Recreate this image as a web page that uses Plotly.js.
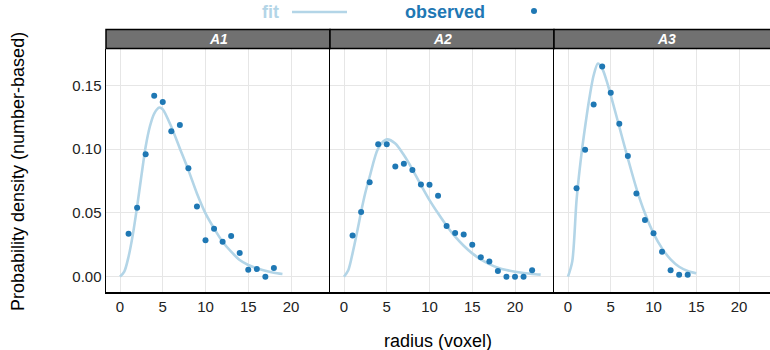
<!DOCTYPE html>
<html>
<head>
<meta charset="utf-8">
<script src="https://cdn.plot.ly/plotly-3.0.1.min.js"></script>
<style>html,body{margin:0;padding:0;background:#fff;}#chart{width:770px;height:350px;}</style>
</head>
<body>
<div id="chart"></div>
<script>
// ---- data ----
const panels = ["A1", "A2", "A3"];

const obsRadiusA1 = [1,2,3,4,5,6,7,8,9,10,11,12,13,14,15,16,17,18];
const obsDensityA1 = [0.0337,0.054,0.096,0.142,0.137,0.114,0.119,0.085,0.055,0.0285,0.0376,0.0274,0.032,0.0186,0.0055,0.006,0.0,0.0068];

const obsRadiusA2 = [1,2,3,4,5,6,7,8,9,10,11,12,13,14,15,16,17,18,19,20,21,22];
const obsDensityA2 = [0.0324,0.0507,0.074,0.1038,0.1038,0.0865,0.0886,0.0836,0.0724,0.0721,0.0635,0.0397,0.0342,0.0332,0.0251,0.0152,0.012,0.0045,0,0,0,0.005];

const obsRadiusA3 = [1,2,3,4,5,6,7,8,9,10,11,12,13,14];
const obsDensityA3 = [0.0693,0.0995,0.1351,0.1649,0.1442,0.1199,0.0946,0.0653,0.0444,0.034,0.0196,0.005,0.0016,0.0016];

const fitRadiusA1 = [0,0.5,1,1.5,2,2.5,3,3.5,4,4.6,5,6,7,8,9,10,11,12,13,14,15,16,17,18,19];
const fitDensityA1 = [0,0.004,0.0157,0.033,0.055,0.079,0.1019,0.118,0.128,0.1327,0.1312,0.1176,0.1006,0.0836,0.0653,0.0497,0.0379,0.0274,0.0196,0.0131,0.0092,0.0066,0.0047,0.0031,0.0021];

const fitRadiusA2 = [0,0.5,1,1.5,2,2.5,3,4,5,6,7,8,9,10,11,12,13,14,15,16,17,18,19,20,21,22,23];
const fitDensityA2 = [0,0.005,0.0183,0.034,0.0509,0.066,0.0784,0.1006,0.1077,0.1045,0.0954,0.0842,0.0719,0.0601,0.0497,0.040,0.0314,0.0243,0.0183,0.0136,0.0099,0.0071,0.0052,0.0039,0.0029,0.0021,0.0016];

const fitRadiusA3 = [0,0.5,1,1.5,2,2.5,3,3.5,4,4.5,5,6,7,8,9,10,11,12,13,14,15];
const fitDensityA3 = [0,0.012,0.0601,0.092,0.1176,0.140,0.158,0.1672,0.1633,0.154,0.1424,0.1176,0.0928,0.0693,0.0497,0.034,0.0222,0.0136,0.0078,0.0045,0.0027];

const xTickVals = [0,5,10,15,20];
const yTickVals = [0,0.05,0.10,0.15];
const legendLabels = ["fit", "observed"];
const xTitle = "radius (voxel)";
const yTitle = "Probability density (number-based)";

// ---- styling ----
const W = 770, H = 350;
const FONT = "Liberation Sans, Arial, Helvetica, sans-serif";
const fitColor = "rgb(179,213,231)";
const obsColor = "#1f78b4";
const pxX = p => p / W;
const pxY = p => (H - p) / H;

const panelLeft = [106, 330, 554];
const panelRight = [330, 554, 770];
const plotTop = 48.5, plotBottom = 292, stripTop = 29.5;
const pxPerUnit = 8.55;
const x0 = -14 / pxPerUnit;

const fits = [[fitRadiusA1, fitDensityA1], [fitRadiusA2, fitDensityA2], [fitRadiusA3, fitDensityA3]];
const obs = [[obsRadiusA1, obsDensityA1], [obsRadiusA2, obsDensityA2], [obsRadiusA3, obsDensityA3]];

const data = [];
const layout = {
  width: W, height: H,
  margin: {l: 0, r: 0, t: 0, b: 0},
  paper_bgcolor: "#fff", plot_bgcolor: "#fff",
  showlegend: false,
  font: {family: FONT, color: "#222"},
  shapes: [], annotations: []
};

panels.forEach((name, i) => {
  const xa = i === 0 ? "x" : "x" + (i + 1);
  const ya = i === 0 ? "y" : "y" + (i + 1);
  data.push({
    x: fits[i][0], y: fits[i][1], xaxis: xa, yaxis: ya,
    type: "scatter", mode: "lines",
    line: {color: fitColor, width: 2.6, shape: "spline", smoothing: 0.8},
    hoverinfo: "skip"
  });
  data.push({
    x: obs[i][0], y: obs[i][1], xaxis: xa, yaxis: ya,
    type: "scatter", mode: "markers",
    marker: {color: obsColor, size: 6}
  });
  const widthPx = panelRight[i] - panelLeft[i];
  const axKey = i === 0 ? "xaxis" : "xaxis" + (i + 1);
  const ayKey = i === 0 ? "yaxis" : "yaxis" + (i + 1);
  layout[axKey] = {
    domain: [pxX(panelLeft[i]), pxX(panelRight[i])],
    anchor: ya,
    range: [x0, x0 + widthPx / pxPerUnit],
    tickvals: xTickVals, ticktext: xTickVals.map(String),
    showgrid: true, gridcolor: "#e6e6e6", gridwidth: 1,
    zeroline: false,
    showline: true, linecolor: "#000", linewidth: 1.5,
    ticks: "", ticklen: 0,
    tickfont: {size: 15, color: "#222", family: FONT},
    automargin: false
  };
  layout[ayKey] = {
    domain: [pxY(plotBottom), pxY(plotTop)],
    anchor: xa,
    range: [-0.012, 0.179],
    tickvals: yTickVals,
    tickformat: ".2f",
    showticklabels: i === 0,
    showgrid: true, gridcolor: "#e6e6e6", gridwidth: 1,
    zeroline: false,
    showline: true, linecolor: "#000", linewidth: 1.5,
    ticks: "", ticklen: 0,
    tickfont: {size: 15, color: "#222", family: FONT},
    automargin: false
  };
  // strip
  layout.shapes.push({
    type: "rect", xref: "paper", yref: "paper",
    x0: pxX(panelLeft[i]), x1: pxX(panelRight[i]) + (i === 2 ? 0.01 : 0),
    y0: pxY(plotTop), y1: pxY(stripTop),
    fillcolor: "#717171", line: {color: "#000", width: 1.5}, layer: "above"
  });
  layout.annotations.push({
    xref: "paper", yref: "paper",
    x: pxX((panelLeft[i] + panelLeft[i] + 224) / 2), y: pxY((plotTop + stripTop) / 2),
    text: "<b><i>" + name + "</i></b>", showarrow: false,
    font: {size: 14, color: "#fff", family: FONT},
    xanchor: "center", yanchor: "middle"
  });
});

// axis titles
layout.annotations.push({
  xref: "paper", yref: "paper", x: pxX(438), y: pxY(341),
  text: xTitle, showarrow: false, font: {size: 18, color: "#000", family: FONT},
  xanchor: "center", yanchor: "middle"
});
layout.annotations.push({
  xref: "paper", yref: "paper", x: pxX(18), y: pxY(172),
  text: yTitle, showarrow: false, textangle: -90,
  font: {size: 18, color: "#000", family: FONT},
  xanchor: "center", yanchor: "middle"
});

// legend
layout.annotations.push({
  xref: "paper", yref: "paper", x: pxX(270), y: pxY(12),
  text: "<b>" + legendLabels[0] + "</b>", showarrow: false,
  font: {size: 18, color: fitColor, family: FONT}, xanchor: "center", yanchor: "middle"
});
layout.shapes.push({
  type: "line", xref: "paper", yref: "paper",
  x0: pxX(292), x1: pxX(347), y0: pxY(12), y1: pxY(12),
  line: {color: fitColor, width: 2.6}
});
layout.annotations.push({
  xref: "paper", yref: "paper", x: pxX(445), y: pxY(12),
  text: "<b>" + legendLabels[1] + "</b>", showarrow: false,
  font: {size: 18, color: obsColor, family: FONT}, xanchor: "center", yanchor: "middle"
});
layout.shapes.push({
  type: "circle", xref: "paper", yref: "paper",
  x0: pxX(531), x1: pxX(537), y0: pxY(14), y1: pxY(8),
  fillcolor: obsColor, line: {color: obsColor, width: 0}
});

Plotly.newPlot("chart", data, layout, {staticPlot: true, displayModeBar: false});
</script>
</body>
</html>
